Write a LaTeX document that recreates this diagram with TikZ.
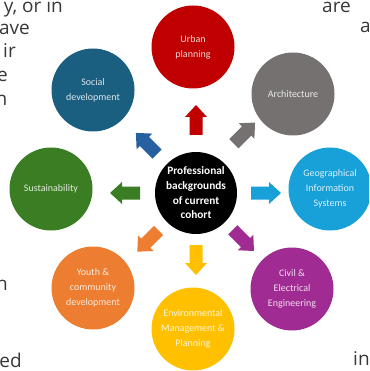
\documentclass[tikz,border=0pt]{standalone}
\usepackage{fontspec}
\setmainfont{Carlito}
\newfontfamily\bodyfont{Open Sans}
\usetikzlibrary{calc}

\definecolor{urbanred}{HTML}{C00000}
\definecolor{archgray}{HTML}{767171}
\definecolor{gisblue}{HTML}{18A0D8}
\definecolor{civilpurple}{HTML}{A02B93}
\definecolor{envyellow}{HTML}{FFC000}
\definecolor{youthorange}{HTML}{ED7D31}
\definecolor{sustgreen}{HTML}{3B7D23}
\definecolor{socialblue}{HTML}{1A5E80}
\definecolor{arrowblue}{HTML}{2660A0}

\tikzset{bigarrow/.pic={
  \path[pic actions] (-15,-6.5) -- (3,-6.5) -- (3,-11) -- (15,0) -- (3,11) -- (3,6.5) -- (-15,6.5) -- cycle;}}

\begin{document}
\begin{tikzpicture}[x=1pt,y=1pt,
  topic/.style={circle,minimum size=83pt,inner sep=0pt,align=center,text=white,text opacity=0.85,font=\fontsize{10}{15}\selectfont},
  frag/.style={font=\bodyfont\fontsize{19}{23}\selectfont,text=black!78,inner sep=0pt}]
  \useasboundingbox (0,0) rectangle (369,-371);
  \clip (0,0) rectangle (369,-371);

  % cut-off body text round the figure
  \node[frag,anchor=base east] (t1) at (63,-13) {y, or in};
  \node[frag,anchor=base east] (t2) at (30,-35) {ave};
  \node[frag,anchor=base east] (t3) at (16,-58) {ir};
  \node[frag,anchor=base east] (t4) at (8,-82) {e};
  \node[frag,anchor=base east] (t5) at (7.5,-106) {n};
  \node[frag,anchor=base east] (t6) at (8,-290) {h};
  \node[frag,anchor=base east] (t7) at (22,-367) {ed};
  \node[frag,anchor=base west] (t8) at (322,-13) {are};
  \node[frag,anchor=base west] (t9) at (360,-33) {a};
  \node[frag,anchor=base west] (t10) at (353,-365) {in};

  % hub
  \node[circle,fill=black,minimum size=82pt,inner sep=0pt,align=center,text=white,
        font=\bfseries\fontsize{11.3}{14.7}\selectfont] (hub) at (196,-193)
        {Professional\\backgrounds\\of current\\cohort};

  % backgrounds
  \node[topic,fill=urbanred] (urban) at (193,-47) {Urban\\planning};
  \node[topic,fill=archgray] (arch) at (293,-94) {Architecture};
  \node[topic,fill=gisblue] (gis) at (330,-189) {Geographical\\Information\\Systems};
  \node[topic,fill=civilpurple] (civil) at (292,-289) {Civil \&\\Electrical\\Engineering};
  \node[topic,fill=envyellow] (env) at (193,-329) {Environmental\\Management \&\\Planning};
  \node[topic,fill=youthorange] (youth) at (93,-288) {Youth \&\\community\\development};
  \node[topic,fill=sustgreen] (sust) at (51,-189) {Sustainability};
  \node[topic,fill=socialblue] (social) at (93,-90) {Social\\development};

  % arrows out of the hub
  \pic[fill=urbanred,rotate=90] at ($(hub)+(90:73)$) {bigarrow};
  \pic[fill=archgray,rotate=45] at ($(hub)+(51:77)$) {bigarrow};
  \pic[fill=gisblue] at ($(hub)+(0:70)$) {bigarrow};
  \pic[fill=civilpurple,rotate=-45] at ($(hub)+(-45:67)$) {bigarrow};
  \pic[fill=envyellow,rotate=-90] at ($(hub)+(-90:67)$) {bigarrow};
  \pic[fill=youthorange,rotate=225] at ($(hub)+(225:68)$) {bigarrow};
  \pic[fill=sustgreen,rotate=180] at ($(hub)+(180:71)$) {bigarrow};
  \pic[fill=arrowblue,rotate=135] at ($(hub)+(135:70)$) {bigarrow};
\end{tikzpicture}
\end{document}
